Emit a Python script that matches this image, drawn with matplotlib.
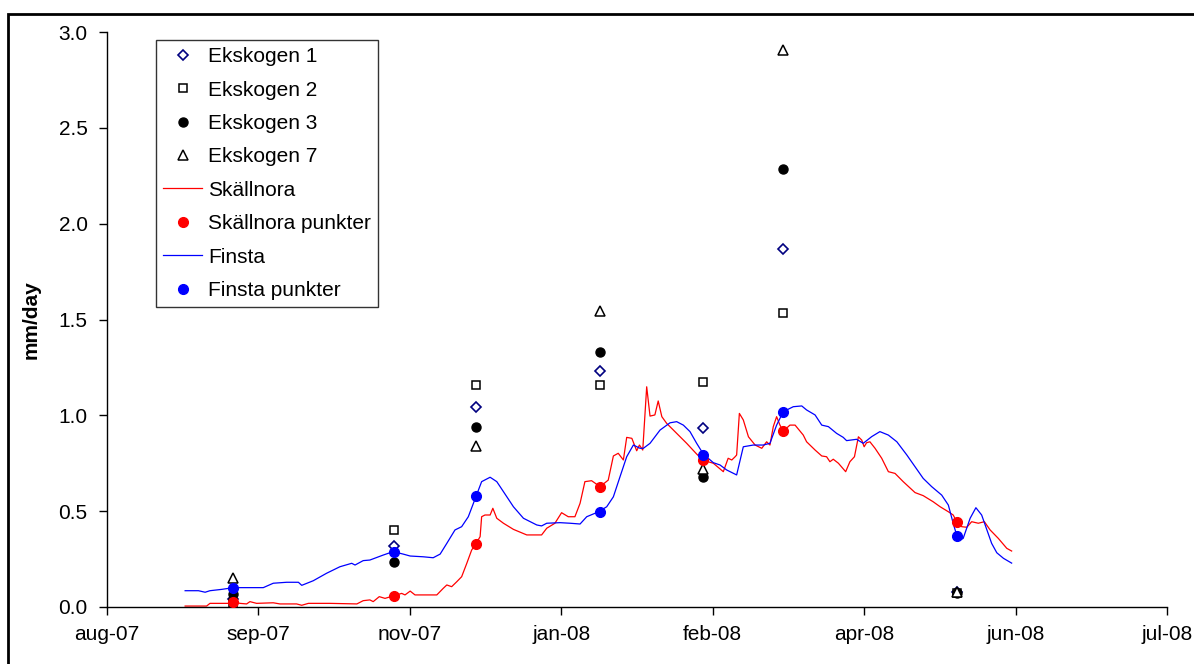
import matplotlib
matplotlib.use('Agg')
import matplotlib.pyplot as plt
import matplotlib.dates as mdates
import matplotlib.patches as patches
from matplotlib.ticker import FuncFormatter, MultipleLocator
from matplotlib.lines import Line2D
import numpy as np
import datetime as dt

plt.rcParams['font.family'] = ['Liberation Sans', 'DejaVu Sans']

# day numbers are counted from this date
start = dt.datetime(2007, 8, 8)
tick_step = 50  # days between x ticks
n_ticks = 8

# sampling occasions (days after start)
sample_days = [41.6, 94.8, 121.8, 162.8, 196.8, 223.3, 280.6]

ekskogen1 = [0.04, 0.32, 1.045, 1.233, 0.936, 1.867, 0.08]
ekskogen2 = [0.02, 0.40, 1.158, 1.158, 1.172, 1.534, 0.075]
ekskogen3 = [0.07, 0.233, 0.939, 1.332, 0.678, 2.285, 0.075]
ekskogen7 = [0.15, np.nan, 0.838, 1.545, 0.721, 2.906, 0.08]
skallnora_pts = [0.028, 0.06, 0.33, 0.628, 0.765, 0.918, 0.443]
finsta_pts = [0.10, 0.285, 0.577, 0.496, 0.795, 1.019, 0.372]

# Skällnora continuous line (day, mm/day)
skallnora_day = [25.8, 32.9, 34.0, 40.1, 41.7, 43.9, 46.1, 47.2, 49.4, 54.9, 57.1, 62.6, 64.3, 66.5,
                 73.6, 82.5, 84.6, 86.8, 87.9, 89.9, 91.8, 94.7, 97.3, 98.4, 100.1, 101.7, 108.9,
                 111.0, 112.2, 113.8, 115.5, 117.1, 118.8, 120.4, 121.8, 123.2, 123.7, 124.8, 126.5,
                 127.4, 128.7, 130.9, 134.2, 138.6, 143.5, 145.2, 147.9, 150.1, 152.3, 154.5, 156.2,
                 157.8, 160.0, 162.8, 165.5, 167.2, 168.8, 170.5, 171.6, 173.3, 174.9, 175.8, 176.9,
                 178.2, 179.3, 180.9, 182.0, 183.2, 184.8, 188.1, 191.4, 194.7, 196.9, 200.2, 203.5,
                 205.1, 206.3, 207.4, 207.9, 208.8, 210.1, 211.8, 214.0, 216.2, 217.8, 218.9, 220.0,
                 221.1, 222.2, 223.3, 225.5, 227.2, 229.9, 231.0, 233.8, 236.0, 237.6, 238.7, 239.8,
                 241.5, 243.9, 245.3, 246.8, 248.1, 249.2, 250.0, 250.8, 251.9, 253.6, 255.8, 258.0,
                 260.2, 262.9, 266.8, 269.5, 272.8, 275.1, 277.8, 279.4, 280.6, 282.2, 283.9, 285.5,
                 287.7, 289.7, 291.6, 294.3, 297.1, 298.7]
skallnora_val = [0.005, 0.005, 0.019, 0.019, 0.028, 0.019, 0.016, 0.028, 0.019, 0.022, 0.016, 0.016,
                 0.009, 0.019, 0.019, 0.016, 0.033, 0.037, 0.028, 0.054, 0.045, 0.059, 0.071, 0.063,
                 0.083, 0.063, 0.063, 0.097, 0.115, 0.106, 0.132, 0.158, 0.228, 0.297, 0.330, 0.367,
                 0.471, 0.480, 0.480, 0.515, 0.463, 0.437, 0.405, 0.376, 0.376, 0.411, 0.437, 0.492,
                 0.471, 0.471, 0.541, 0.654, 0.659, 0.628, 0.662, 0.788, 0.802, 0.767, 0.885, 0.880,
                 0.815, 0.845, 0.819, 1.149, 0.996, 1.002, 1.075, 0.993, 0.958, 0.906, 0.854, 0.798,
                 0.765, 0.750, 0.706, 0.776, 0.767, 0.784, 0.793, 1.010, 0.976, 0.888, 0.845, 0.828,
                 0.862, 0.845, 0.941, 0.993, 0.949, 0.918, 0.949, 0.949, 0.897, 0.862, 0.819, 0.788,
                 0.784, 0.758, 0.771, 0.750, 0.706, 0.758, 0.784, 0.888, 0.871, 0.836, 0.857, 0.862,
                 0.828, 0.776, 0.706, 0.697, 0.654, 0.597, 0.581, 0.549, 0.523, 0.497, 0.480, 0.445,
                 0.419, 0.416, 0.445, 0.437, 0.445, 0.402, 0.358, 0.306, 0.292]

# Finsta continuous line (day, mm/day)
finsta_day = [25.8, 30.2, 32.4, 34.0, 37.9, 41.7, 46.1, 51.6, 54.9, 59.3, 63.2, 64.3, 68.1, 72.5,
              76.9, 80.8, 81.9, 84.6, 86.8, 91.2, 94.5, 97.8, 100.1, 104.4, 107.7, 110.0, 112.2,
              114.9, 117.1, 119.3, 121.8, 123.7, 126.5, 128.7, 129.8, 134.2, 137.5, 141.9, 143.5,
              145.2, 149.6, 152.9, 156.2, 158.4, 162.2, 165.0, 167.2, 169.4, 171.6, 173.8, 176.0,
              177.1, 179.3, 182.6, 185.9, 188.1, 190.3, 192.5, 194.7, 196.9, 200.2, 202.4, 204.6,
              207.9, 210.1, 213.4, 216.7, 218.9, 221.1, 223.3, 226.6, 229.4, 231.0, 233.8, 236.0,
              238.2, 240.9, 243.1, 244.2, 247.5, 249.7, 252.5, 255.2, 258.0, 260.8, 264.1, 266.8,
              269.5, 272.3, 275.6, 277.8, 279.4, 280.6, 281.7, 282.7, 285.0, 286.9, 288.8, 292.1,
              293.8, 296.0, 298.7]
finsta_val = [0.085, 0.085, 0.077, 0.085, 0.092, 0.101, 0.101, 0.101, 0.124, 0.129, 0.129, 0.113,
              0.137, 0.176, 0.210, 0.228, 0.219, 0.242, 0.245, 0.271, 0.289, 0.276, 0.266, 0.262,
              0.257, 0.276, 0.332, 0.402, 0.419, 0.471, 0.575, 0.654, 0.677, 0.654, 0.628, 0.523,
              0.463, 0.428, 0.423, 0.437, 0.440, 0.437, 0.433, 0.471, 0.496, 0.523, 0.575, 0.680,
              0.784, 0.845, 0.828, 0.828, 0.854, 0.923, 0.961, 0.967, 0.949, 0.915, 0.854, 0.798,
              0.753, 0.741, 0.715, 0.689, 0.836, 0.845, 0.845, 0.854, 0.949, 1.019, 1.045, 1.049,
              1.028, 1.002, 0.949, 0.941, 0.906, 0.885, 0.868, 0.875, 0.854, 0.889, 0.915, 0.897,
              0.862, 0.793, 0.732, 0.671, 0.628, 0.584, 0.532, 0.437, 0.372, 0.350, 0.358, 0.463,
              0.518, 0.480, 0.332, 0.283, 0.254, 0.229]

t0 = mdates.date2num(start)
sx = t0 + np.array(sample_days)

fig = plt.figure(figsize=(11.94, 6.64), dpi=100)
ax = fig.add_axes([107 / 1194, 1 - 607 / 664, 1060 / 1194, 575 / 664])

ax.plot(t0 + np.array(skallnora_day), skallnora_val, color='#ff0000', lw=0.9, zorder=2)
ax.plot(t0 + np.array(finsta_day), finsta_val, color='#0000ff', lw=0.9, zorder=2)

ms = 6
ax.plot(sx, ekskogen1, ls='none', marker='D', ms=5, mfc='white', mec='#000080', mew=1.2, zorder=3)
ax.plot(sx, ekskogen2, ls='none', marker='s', ms=ms, mfc='white', mec='black', mew=1.1, zorder=3)
ax.plot(sx, ekskogen3, ls='none', marker='o', ms=ms + 0.5, mfc='black', mec='black', zorder=3)
ax.plot(sx, ekskogen7, ls='none', marker='^', ms=ms + 0.5, mfc='white', mec='black', mew=1.1, zorder=3)
ax.plot(sx, skallnora_pts, ls='none', marker='o', ms=7, mfc='#ff0000', mec='#ff0000', zorder=4)
ax.plot(sx, finsta_pts, ls='none', marker='o', ms=7, mfc='#0000ff', mec='#0000ff', zorder=5)

ax.set_xlim(t0, t0 + tick_step * (n_ticks - 1))
ax.set_ylim(0, 3.0)
ax.set_xticks([t0 + tick_step * i for i in range(n_ticks)])
ax.xaxis.set_major_formatter(FuncFormatter(lambda v, p: mdates.num2date(v).strftime('%b-%y').lower()))
ax.yaxis.set_major_locator(MultipleLocator(0.5))
ax.yaxis.set_major_formatter(FuncFormatter(lambda v, p: f'{v:.1f}'))

for s in ['top', 'right']:
    ax.spines[s].set_visible(False)
for s in ['left', 'bottom']:
    ax.spines[s].set_linewidth(1.0)
    ax.spines[s].set_color('black')
ax.tick_params(axis='both', direction='out', length=6, width=1, labelsize=15, colors='black')
ax.tick_params(axis='x', pad=7)
ax.tick_params(axis='y', pad=8)

fig.text(31 / 1194, 1 - 320 / 664, 'mm/day', rotation=90, ha='center', va='center',
         fontsize=15, fontweight='bold')

handles = [
    Line2D([], [], ls='none', marker='D', ms=5, mfc='white', mec='#000080', mew=1.2),
    Line2D([], [], ls='none', marker='s', ms=ms, mfc='white', mec='black', mew=1.1),
    Line2D([], [], ls='none', marker='o', ms=ms + 0.5, mfc='black', mec='black'),
    Line2D([], [], ls='none', marker='^', ms=ms + 0.5, mfc='white', mec='black', mew=1.1),
    Line2D([], [], color='#ff0000', lw=0.9),
    Line2D([], [], ls='none', marker='o', ms=7, mfc='#ff0000', mec='#ff0000'),
    Line2D([], [], color='#0000ff', lw=0.9),
    Line2D([], [], ls='none', marker='o', ms=7, mfc='#0000ff', mec='#0000ff'),
]
labels = ['Ekskogen 1', 'Ekskogen 2', 'Ekskogen 3', 'Ekskogen 7',
          'Skällnora', 'Skällnora punkter', 'Finsta', 'Finsta punkter']
leg = fig.legend(handles, labels, loc='upper left', bbox_to_anchor=(156 / 1194, 1 - 40 / 664),
                 fontsize=15, frameon=True, fancybox=False, shadow=False, borderpad=0.35,
                 labelspacing=0.69, handlelength=1.85, handletextpad=0.3, borderaxespad=0)
leg.get_frame().set_edgecolor('black')
leg.get_frame().set_linewidth(1.0)

# outer chart border
fig.patches.append(patches.Rectangle((8 / 1194, -0.05), 1.1, 1 - 14 / 664 + 0.05,
                                     transform=fig.transFigure, fill=False, ec='black', lw=2,
                                     clip_on=False))

fig.savefig('out.png', dpi=100)
